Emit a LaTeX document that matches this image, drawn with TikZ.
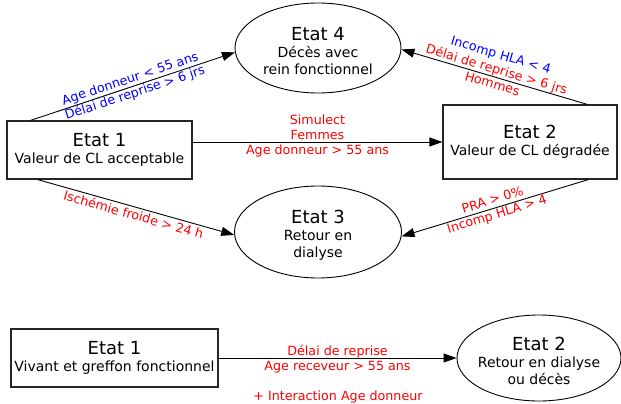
\documentclass[tikz,border=0pt]{standalone}
\usepackage{fontspec}
\setmainfont{DejaVu Sans}
\usetikzlibrary{arrows.meta,shapes.geometric}
\newcommand{\ttlf}{\fontsize{18}{18}\selectfont}
\newcommand{\ttlstrut}{\rule{0pt}{20pt}}
\begin{document}
\begin{tikzpicture}[x=1pt,y=-1pt,
  stbox/.style={draw=black!85, line width=1.1pt, rectangle, inner sep=0pt, align=center,
    font=\fontsize{14}{17}\selectfont},
  stell/.style={draw=black, line width=0.9pt, ellipse, inner sep=-8pt, align=center,
    font=\fontsize{14}{17}\selectfont},
  conn/.style={draw=black, line width=0.9pt, -{Triangle[length=13pt,width=9pt]}},
  lbl/.style={font=\fontsize{12.7}{15}\selectfont, align=center, inner sep=0pt, text=red},
]
\useasboundingbox (0,0) rectangle (621,404);

% upper diagram
\node[stbox, minimum width=185pt, minimum height=58pt] (e1) at (99.5,150)
  {{\ttlf Etat 1}\\Valeur de CL acceptable};
\node[stbox, minimum width=174pt, minimum height=74pt] (e2) at (530,142)
  {{\ttlf Etat 2}\\Valeur de CL dégradée};
\node[stell, minimum width=166pt, minimum height=90pt] (e4) at (318,48)
  {\ttlstrut{\ttlf Etat 4}\\Décès avec\\rein fonctionnel};
\node[stell, minimum width=167pt, minimum height=92pt] (e3) at (318,232)
  {\ttlstrut{\ttlf Etat 3}\\Retour en\\dialyse};

\draw[conn] ([xshift=24pt]e1.north west) -- (e4.183)
  node[lbl, text=blue, midway, sloped] {Age donneur < 55 ans\\Délai de reprise > 6 jrs};
\draw[conn] ([xshift=145pt]e2.north west) -- (e4.359)
  node[lbl, midway, sloped, yshift=8pt] {\textcolor{blue}{Incomp HLA < 4}\\Délai de reprise > 6 jrs\\Hommes};
\draw[conn] (e1.east |- e2.west) -- (e2.west)
  node[lbl, midway, yshift=6.5pt] {Simulect\\Femmes\\Age donneur > 55 ans};
\draw[conn] ([xshift=31pt]e1.south west) -- (e3.182)
  node[lbl, midway, sloped, below=2pt] {Ischémie froide > 24 h};
\draw[conn] ([xshift=146pt]e2.south west) -- (e3.357)
  node[lbl, midway, sloped] {PRA > 0\%\\Incomp HLA > 4};

% lower diagram
\node[stbox, minimum width=207pt, minimum height=58pt] (b1) at (114.5,358)
  {{\ttlf Etat 1}\\Vivant et greffon fonctionnel};
\node[stell, minimum width=164pt, minimum height=86pt] (b2) at (539,358)
  {\ttlstrut{\ttlf Etat 2}\\Retour en dialyse\\ou décès};
\draw[conn] (b1.east) -- (b2.west)
  node[lbl, midway, yshift=-1.5pt] (bl) {Délai de reprise\\Age receveur > 55 ans};
\node[lbl] (inter) at (338,397) {+ Interaction Age donneur};
\end{tikzpicture}
\end{document}
